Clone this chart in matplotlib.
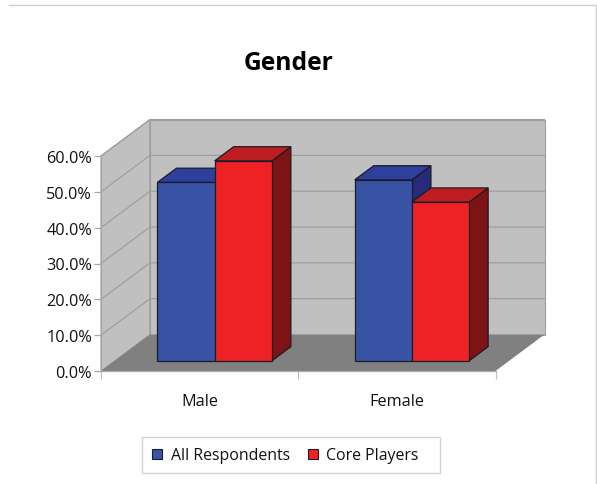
import matplotlib
matplotlib.use("Agg")
import matplotlib.pyplot as plt
from matplotlib.patches import Polygon, Patch, Rectangle
from matplotlib.lines import Line2D

categories = ["Male", "Female"]
series_names = ["All Respondents", "Core Players"]
all_respondents = [49.8, 50.5]
core_players = [55.8, 44.3]
y_ticks = [0, 10, 20, 30, 40, 50, 60]
y_tick_labels = ["0.0%", "10.0%", "20.0%", "30.0%", "40.0%", "50.0%", "60.0%"]

W, H = 597, 485
FONT = "Open Sans"
plt.rcParams["font.family"] = [FONT, "DejaVu Sans"]

fig = plt.figure(figsize=(W / 100, H / 100), dpi=100, facecolor="white")
L, R, T, B = 101.0, 495.5, 157.0, 372.0
ax = fig.add_axes([L / W, 1 - B / H, (R - L) / W, (B - T) / H])
ax.set_xlim(0, 2)
ax.set_ylim(0, 60)
ax.patch.set_visible(False)

# oblique projection: depth z in 0..1 shifts the point back and up
DX = 49 / ((R - L) / 2)
DY = 36.5 / ((B - T) / 60)


def P(x, y, z=0.0):
    return (x + z * DX, y + z * DY)


def poly(pts, fc, ec="none", lw=0.0, z=1):
    ax.add_patch(Polygon(pts, closed=True, fc=fc, ec=ec, lw=lw, zorder=z,
                         clip_on=False, joinstyle="miter"))


WALL, FLOOR, GRID = "#c0c0c0", "#808080", "#9c9c9c"
poly([P(0, 0), P(0, 60), P(0, 60, 1), P(0, 0, 1)], WALL, GRID, 0.8)
poly([P(0, 0, 1), P(0, 60, 1), P(2, 60, 1), P(2, 0, 1)], WALL, GRID, 0.8)
poly([P(0, 0), P(2, 0), P(2, 0, 1), P(0, 0, 1)], FLOOR)
for v in y_ticks[1:]:
    xs = [P(0, v)[0], P(0, v, 1)[0], P(2, v, 1)[0]]
    ys = [P(0, v)[1], P(0, v, 1)[1], P(2, v, 1)[1]]
    ax.plot(xs, ys, color=GRID, lw=0.8, zorder=2, clip_on=False)

BAR_W, GROUP_START, Z0, Z1 = 0.29, 0.217, 0.278, 0.667
BLUE = ("#3953a4", "#2e3f9c", "#262c7a")
RED = ("#ee2224", "#be1e23", "#7d1315")
EDGE = "#1c1c28"


def bar3d(x0, v, cols, z):
    x1 = x0 + BAR_W
    poly([P(x1, 0, Z0), P(x1, v, Z0), P(x1, v, Z1), P(x1, 0, Z1)], cols[2], EDGE, 0.9, z)
    poly([P(x0, v, Z0), P(x1, v, Z0), P(x1, v, Z1), P(x0, v, Z1)], cols[1], EDGE, 0.9, z)
    poly([P(x0, 0, Z0), P(x1, 0, Z0), P(x1, v, Z0), P(x0, v, Z0)], cols[0], EDGE, 0.9, z)


for i, (a, c) in enumerate(zip(all_respondents, core_players)):
    x0 = i + GROUP_START
    bar3d(x0, a, BLUE, 3 + i * 2)
    bar3d(x0 + BAR_W, c, RED, 4 + i * 2)

for s in ("top", "right"):
    ax.spines[s].set_visible(False)
for s in ("left", "bottom"):
    ax.spines[s].set_color("#a8a8a8")
    ax.spines[s].set_linewidth(0.9)
    ax.spines[s].set_zorder(2.5)

ax.set_yticks(y_ticks, y_tick_labels, fontsize=11.7, color="#111111")
ax.set_xticks([0, 1, 2], ["", "", ""])
ax.set_xticks([0.5, 1.5], categories, minor=True, fontsize=11.7, color="#111111")
ax.tick_params(axis="y", length=5, width=0.9, color="#a8a8a8", pad=1.5)
ax.tick_params(axis="x", which="major", length=6, width=0.9, color="#c0c0c0")
ax.tick_params(axis="x", which="minor", length=0, pad=15.5)

fig.text(289 / W, 1 - 64 / H, "Gender", ha="center", va="center",
         fontsize=17.7, fontweight="bold", color="black")

# legend frame is wider on the right than its content, so it is drawn separately
fig.add_artist(Rectangle((142 / W, 1 - 474 / H), 298 / W, 36.5 / H,
                         transform=fig.transFigure, fc="white", ec="#d4d4d4", lw=1.0))
handles = [Patch(fc=BLUE[0], ec=EDGE, lw=0.8, label=series_names[0]),
           Patch(fc=RED[0], ec=EDGE, lw=0.8, label=series_names[1])]
leg = fig.legend(handles=handles, ncol=2, loc="center left",
                 bbox_to_anchor=(152 / W, 1 - 456.5 / H), fontsize=11.4,
                 frameon=False, borderaxespad=0, borderpad=0,
                 handlelength=0.62, handleheight=0.68, handletextpad=0.55,
                 columnspacing=1.15, labelcolor="#111111")

# outer chart border (top and right)
fig.add_artist(Line2D([9 / W, 596 / W, 596 / W], [1 - 5.5 / H, 1 - 5.5 / H, 1 - 485 / H],
                      transform=fig.transFigure, color="#cfcfcf", lw=1.0))

fig.savefig("out.png", dpi=100, facecolor="white")
